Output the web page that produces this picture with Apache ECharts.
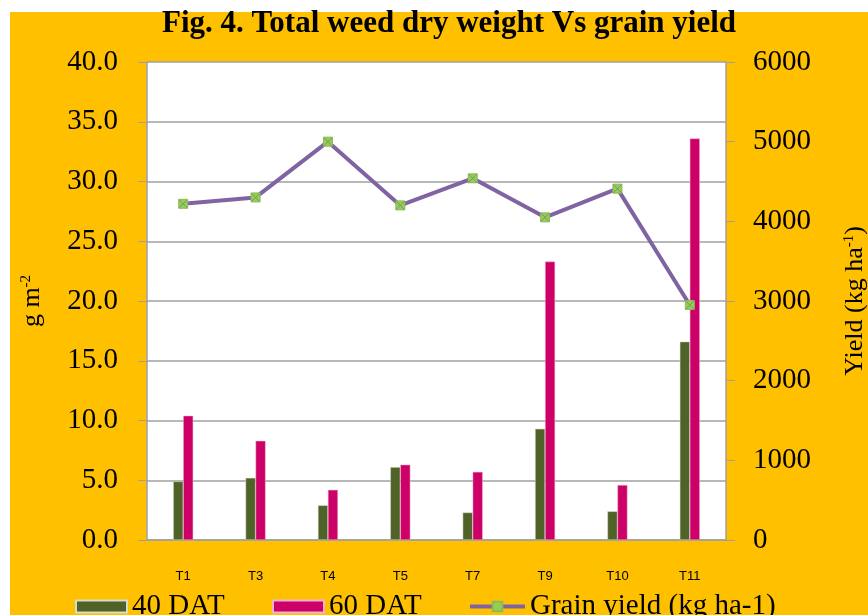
<!DOCTYPE html>
<html>
<head>
<meta charset="utf-8">
<script src="https://cdn.jsdelivr.net/npm/echarts@6/dist/echarts.min.js"></script>
<style>
html,body{margin:0;padding:0;background:#fff;overflow:hidden;}
#c{width:868px;height:615px;}
</style>
</head>
<body>
<div id="c"></div>
<script>
const categories = ['T1','T3','T4','T5','T7','T9','T10','T11'];
const dat40 = [4.9, 5.2, 2.9, 6.1, 2.3, 9.3, 2.4, 16.6];
const dat60 = [10.4, 8.3, 4.2, 6.3, 5.7, 23.3, 4.6, 33.6];
const grainYield = [4220, 4300, 5000, 4200, 4540, 4050, 4410, 2950];
const leftTicks = [0, 40, 5];
const rightTicks = [0, 6000, 1000];

const chart = echarts.init(document.getElementById('c'), null, {renderer: 'canvas'});
const serif = '"Liberation Serif", "Times New Roman", serif';
const sans = '"Liberation Sans", Arial, sans-serif';
const gray = '#A0A0A0';

const nameStyle = {
  fontFamily: serif, fontSize: 26, fontWeight: 'normal', color: '#000',
  textBorderWidth: 0, textShadowBlur: 0,
  rich: {
    s: {fontFamily: serif, fontSize: 15, fontWeight: 'normal', color: '#000', verticalAlign: 'top', padding: [0,0,12,0]}
  }
};

const option = {
  backgroundColor: '#ffffff',
  animation: false,
  graphic: [{
    type: 'rect', left: 10, top: 12, z: -10, silent: true,
    shape: {width: 858, height: 603},
    style: {fill: '#FFC000'}
  }],
  title: {
    text: 'Fig. 4. Total weed dry weight Vs grain yield',
    left: 444, top: 3, textAlign: 'center',
    textStyle: {fontFamily: serif, fontWeight: 'bold', fontSize: 31, color: '#000'}
  },
  grid: {left: 147, right: 142, top: 62, bottom: 75, show: true, backgroundColor: '#fff', borderWidth: 0,
         containLabel: false, outerBoundsMode: 'none'},
  legend: [
    {data: [{name: '40 DAT', icon: 'rect'}], left: 70, top: 587, itemWidth: 51, itemHeight: 12,
     textStyle: {fontFamily: serif, fontSize: 29, color: '#000'}},
    {data: [{name: '60 DAT', icon: 'rect'}], left: 267, top: 587, itemWidth: 51, itemHeight: 12,
     textStyle: {fontFamily: serif, fontSize: 29, color: '#000'}},
    {data: ['Grain yield (kg ha-1)'], left: 463, top: 587, itemWidth: 55, itemHeight: 12,
     lineStyle: {width: 4, color: '#8064A2'},
     textStyle: {fontFamily: serif, fontSize: 29, color: '#000'}}
  ],
  xAxis: {
    type: 'category', data: categories,
    axisLine: {lineStyle: {color: gray, width: 1.5}},
    axisTick: {show: false},
    axisLabel: {fontFamily: sans, fontSize: 13, color: '#000', margin: 30}
  },
  yAxis: [
    {
      type: 'value', min: leftTicks[0], max: leftTicks[1], interval: leftTicks[2], position: 'left',
      name: 'g m{s|-2}', nameLocation: 'middle', nameGap: 101, nameRotate: 90,
      nameTextStyle: nameStyle,
      axisLine: {show: true, lineStyle: {color: gray, width: 1.5}},
      axisTick: {show: true, length: 9, lineStyle: {color: gray}},
      axisLabel: {fontFamily: serif, fontSize: 29, color: '#000', margin: 29, formatter: v => v.toFixed(1)},
      splitLine: {show: true, lineStyle: {color: gray, width: 1.5}}
    },
    {
      type: 'value', min: rightTicks[0], max: rightTicks[1], interval: rightTicks[2], position: 'right',
      name: 'Yield (kg ha{s|-1})', nameLocation: 'middle', nameGap: 116, nameRotate: 90,
      nameTextStyle: nameStyle,
      axisLine: {show: true, lineStyle: {color: gray, width: 1.5}},
      axisTick: {show: true, length: 9, lineStyle: {color: gray}},
      axisLabel: {fontFamily: serif, fontSize: 29, color: '#000', margin: 27, formatter: v => String(v)},
      splitLine: {show: false}
    }
  ],
  series: [
    {name: '40 DAT', type: 'bar', data: dat40, barWidth: 10, barGap: '0%',
     itemStyle: {color: '#4F6228', borderColor: '#D9DCC8', borderWidth: 0.5}},
    {name: '60 DAT', type: 'bar', data: dat60, barWidth: 10, barGap: '0%',
     itemStyle: {color: '#CC0066', borderColor: '#F2B3CF', borderWidth: 0.5}},
    {name: 'Grain yield (kg ha-1)', type: 'line', yAxisIndex: 1, data: grainYield,
     lineStyle: {color: '#8064A2', width: 4}, itemStyle: {color: '#92D050', borderColor: '#8FB85A', borderWidth: 1},
     symbol: 'rect', symbolSize: 9, z: 5},
    {name: 'marks', type: 'scatter', yAxisIndex: 1, data: grainYield,
     symbol: 'path://M0,0L10,10M10,0L0,10', symbolSize: 8,
     itemStyle: {color: 'none', borderColor: '#7F7F7F', borderWidth: 1}, z: 6, silent: true}
  ]
};
chart.setOption(option);
</script>
</body>
</html>
